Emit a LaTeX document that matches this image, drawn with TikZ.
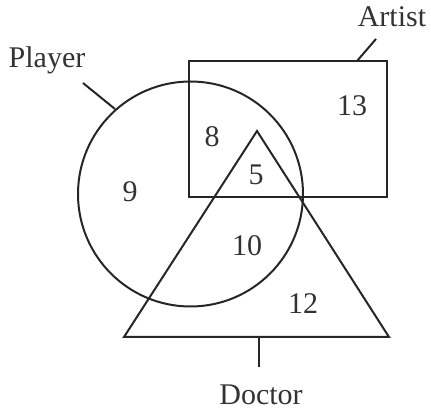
\documentclass[tikz,border=0pt]{standalone}
\usepackage{fontspec}
\setmainfont{Liberation Serif}
\begin{document}
\begin{tikzpicture}[x=1pt,y=-1pt,
  setline/.style={draw=black!85,line width=2pt},
  lead/.style={draw=black!85,line width=2pt},
  lbl/.style={inner sep=0pt,font=\fontsize{30}{36}\selectfont,text=black!80}]
\useasboundingbox (0,0) rectangle (431,419);
\draw[setline] (189,61) rectangle (387,197);
\draw[setline] (190.5,194) circle[radius=112.5];
\draw[setline,line join=miter] (257,131) -- (389,337) -- (124,337) -- cycle;
\coordinate (pA) at (83,83);
\coordinate (pB) at (115,109);
\coordinate (aA) at (376,39);
\coordinate (aB) at (357,61);
\coordinate (dA) at (259,337);
\coordinate (dB) at (259,367);
\draw[lead] (pA) -- (pB);
\draw[lead] (aA) -- (aB);
\draw[lead] (dA) -- (dB);
\node[lbl] (player) at (47,60) {Player};
\node[lbl] (artist) at (392,17) {Artist};
\node[lbl] (doctor) at (261,395) {Doctor};
\node[lbl] (n13) at (352,106) {13};
\node[lbl] (n8) at (212,137) {8};
\node[lbl] (n9) at (130,192) {9};
\node[lbl] (n5) at (256,175) {5};
\node[lbl] (n10) at (247,246) {10};
\node[lbl] (n12) at (303,304) {12};
\end{tikzpicture}
\end{document}
